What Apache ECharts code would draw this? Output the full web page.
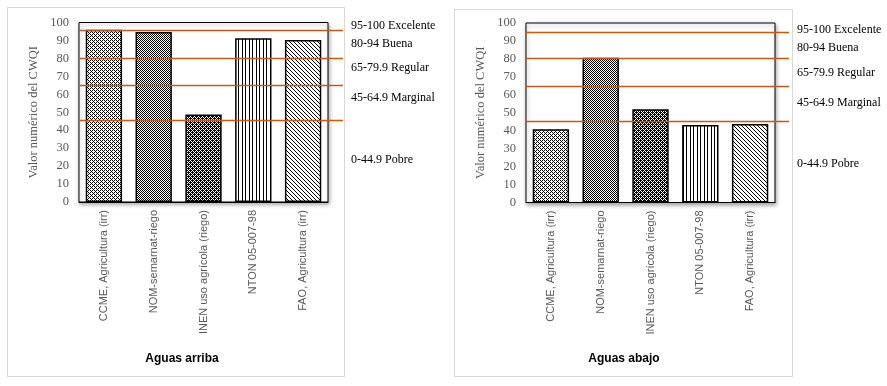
<!DOCTYPE html>
<html>
<head>
<meta charset="utf-8">
<script src="https://cdn.jsdelivr.net/npm/echarts@6/dist/echarts.min.js"></script>
<style>html,body{margin:0;padding:0;background:#fff;}#c{width:887px;height:386px;}</style>
</head>
<body>
<div id="c"></div>
<script>
// ---- data ----
const categories = ['CCME, Agricultura (irr)', 'NOM-semarnat-riego', 'INEN uso agrícola (riego)', 'NTON 05-007-98', 'FAO, Agricultura (irr)'];
const upstreamValues = [96, 94.7, 48.8, 91.2, 90.2];      // Aguas arriba
const downstreamValues = [40.8, 80.6, 52, 43.2, 43.7];    // Aguas abajo
const upstreamLimits = [95.8, 80.2, 65.2, 45.8];
const downstreamLimits = [94.7, 80.6, 64.8, 45.2];
const classLabels = ['95-100 Excelente', '80-94 Buena', '65-79.9 Regular', '45-64.9 Marginal', '0-44.9 Pobre'];
const panelTitles = ['Aguas arriba', 'Aguas abajo'];
const yAxisTitle = 'Valor numérico del CWQI';
const yMin = 0, yMax = 100, yStep = 10;

// ---- layout / style ----
const panels = [
  {x: 79, top: 22.5, w: 249, h: 179.5, lineEnd: 343, box: [7.5, 7.5, 337, 369], labelX: 351, labelY: [26, 44, 68, 98, 160], titleX: 182},
  {x: 526, top: 23, w: 249, h: 179.5, lineEnd: 789, box: [454.5, 9.5, 338, 367], labelX: 797, labelY: [30, 48, 72.7, 102.7, 164], titleX: 624}
];
const titleY = 359;
const limitColor = '#C55A11';

function pattern(rows) {
  const h = rows.length, w = rows[0].length;
  const c = document.createElement('canvas');
  c.width = w; c.height = h;
  const ctx = c.getContext('2d');
  ctx.fillStyle = '#fff'; ctx.fillRect(0, 0, w, h);
  ctx.fillStyle = '#000';
  for (let y = 0; y < h; y++) for (let x = 0; x < w; x++) if (rows[y][x] === '1') ctx.fillRect(x, y, 1, 1);
  return {image: c, repeat: 'repeat'};
}
const fills = [
  pattern(['1010', '0100', '1010', '0001']),
  pattern(['10', '01']),
  pattern(['1101', '1010', '0111', '1010']),
  pattern(['1000100']),
  pattern(['1000', '0100', '0010', '0001'])
];

const chart = echarts.init(document.getElementById('c'), null, {renderer: 'canvas'});
const seriesValues = [upstreamValues, downstreamValues];
const seriesLimits = [upstreamLimits, downstreamLimits];

const option = {
  backgroundColor: '#fff',
  animation: false,
  grid: panels.map(p => ({
    left: p.x, top: p.top, width: p.w, height: p.h,
    show: true, borderColor: '#000', borderWidth: 1, backgroundColor: '#fff',
    shadowColor: 'rgba(0,0,0,0.35)', shadowBlur: 4, shadowOffsetX: 1, shadowOffsetY: 2
  })),
  xAxis: panels.map((p, i) => ({
    type: 'category', gridIndex: i, data: categories,
    axisLine: {show: true, lineStyle: {color: '#000', width: 1}},
    axisTick: {show: false},
    axisLabel: {rotate: 90, margin: 8, fontSize: 11, color: '#595959', fontFamily: 'Liberation Sans', interval: 0}
  })),
  yAxis: panels.map((p, i) => ({
    type: 'value', gridIndex: i, min: yMin, max: yMax, interval: yStep,
    name: yAxisTitle, nameLocation: 'middle', nameGap: 39,
    nameTextStyle: {fontFamily: 'Liberation Serif', fontSize: 12.5, color: '#595959'},
    axisLine: {show: false}, axisTick: {show: false}, splitLine: {show: false},
    axisLabel: {margin: 10, fontSize: 12.5, color: '#595959', fontFamily: 'Liberation Serif'}
  })),
  series: panels.map((p, i) => ({
    type: 'bar', xAxisIndex: i, yAxisIndex: i,
    barWidth: '73%',
    data: seriesValues[i].map((v, k) => ({value: v, itemStyle: {color: fills[k], borderColor: '#000', borderWidth: 1.5}})),
    markLine: {
      silent: true, symbol: ['none', 'none'], label: {show: false},
      lineStyle: {color: limitColor, width: 1.3, type: 'solid'},
      data: seriesLimits[i].map(v => [{coord: [-Infinity, v]}, {coord: [Infinity, v], x: p.lineEnd}])
    }
  })),
  graphic: [].concat(...panels.map((p, i) => [
    {type: 'rect', shape: {x: p.box[0], y: p.box[1], width: p.box[2], height: p.box[3]},
     style: {fill: 'none', stroke: '#d9d9d9', lineWidth: 1}, z: -1},
    {type: 'text', x: p.titleX, y: titleY,
     style: {text: panelTitles[i], font: 'bold 12px "Liberation Sans"', fill: '#000', align: 'center', verticalAlign: 'middle'}}
  ].concat(classLabels.map((t, k) => ({
    type: 'text', x: p.labelX, y: p.labelY[k],
    style: {text: t, font: '12px "Liberation Serif"', fill: '#000', align: 'left', verticalAlign: 'middle'}
  })))))
};
chart.setOption(option);
</script>
</body>
</html>
